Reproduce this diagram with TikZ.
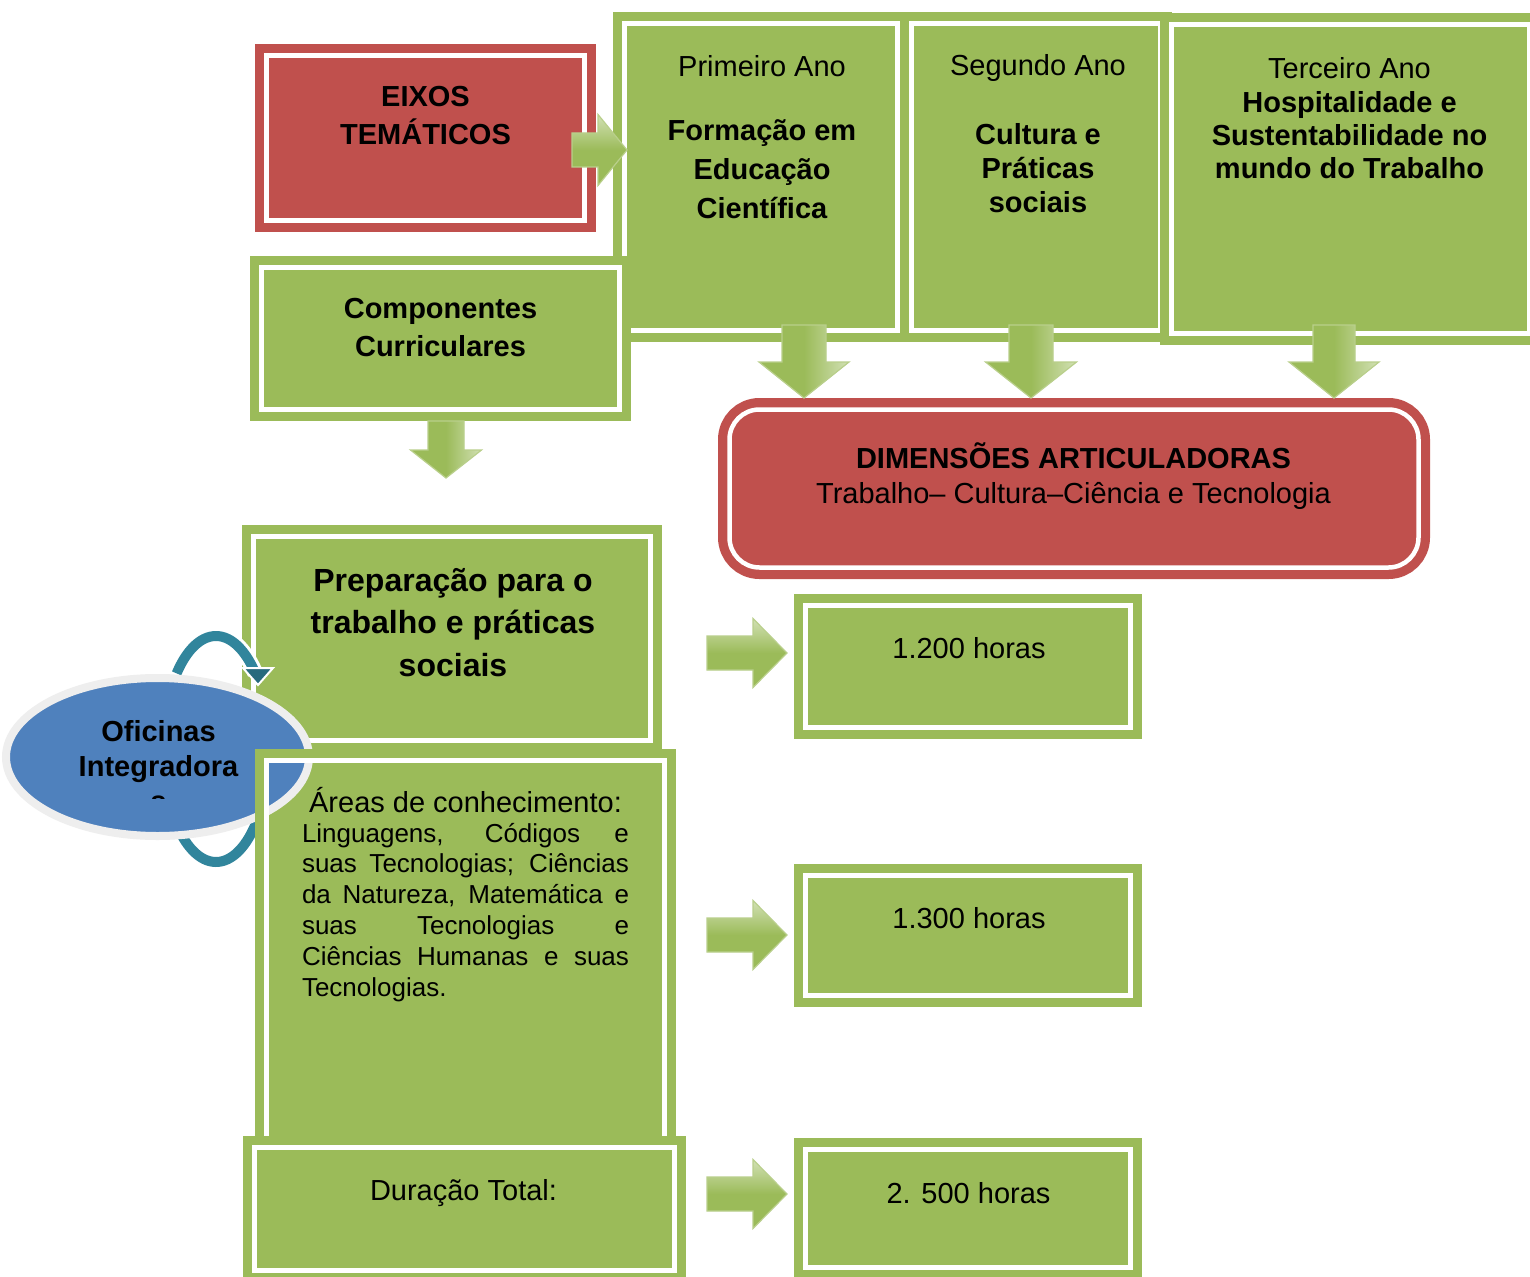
\documentclass[tikz,border=0pt]{standalone}
\usepackage{fontspec}
\setmainfont{Liberation Sans}
\usetikzlibrary{shapes.geometric}
\definecolor{gr}{HTML}{9BBB59}
\definecolor{rd}{HTML}{C0504D}
\definecolor{bl}{HTML}{4F81BD}
\definecolor{tl}{HTML}{31859C}
\definecolor{ring}{HTML}{EEEEEE}
\newcommand\FS[2]{\fontsize{#1}{#2}\selectfont}
% right block arrow: x0, x1 (head base), x2 (tip), y, body half, head half
\newcommand\RArrow[6]{\path[rarw] ({#1},{#4-#5}) -- ({#2},{#4-#5}) -- ({#2},{#4-#6}) -- ({#3},{#4}) -- ({#2},{#4+#6}) -- ({#2},{#4+#5}) -- ({#1},{#4+#5}) -- cycle;}
% down block arrow: xc, y0, y1 (head base), y2 (tip), body half, head half
\newcommand\DArrow[6]{\path[darw] ({#1-#5},{#2}) -- ({#1+#5},{#2}) -- ({#1+#5},{#3}) -- ({#1+#6},{#3}) -- ({#1},{#4}) -- ({#1-#6},{#3}) -- ({#1-#5},{#3}) -- cycle;}
\begin{document}
\begin{tikzpicture}[x=1pt,y=-1pt,
  every node/.style={inner sep=0pt, outer sep=0pt},
  gbox/.style={fill=gr, draw=white, line width=4.5pt, preaction={draw=gr, line width=23pt}},
  rbox/.style={fill=rd, draw=white, line width=4.5pt, preaction={draw=rd, line width=23pt}},
  rarw/.style={draw=gr!70!white, line width=1.2pt, top color=gr!45!white, bottom color=gr, middle color=gr},
  darw/.style={draw=gr!70!white, line width=1.2pt, left color=gr, right color=gr!45!white, middle color=gr},
  txt/.style={align=center, text=black},
  arcline/.style={line width=10pt, draw=tl},
  arcwhite/.style={line width=16pt, draw=white},
]
\useasboundingbox (0,0) rectangle (1530,1276);
\clip (0,0) rectangle (1530,1276);
\fill[white] (0,0) rectangle (1530,1276);

% year boxes
\node[gbox, minimum width=273pt, minimum height=307pt] (prim) at (761,177) {};
\node[gbox, minimum width=249pt, minimum height=307pt] (seg) at (1036,177) {};
\node[gbox, minimum width=358pt, minimum height=309pt] (ter) at (1350.5,179) {};
% componentes
\node[gbox, minimum width=358pt, minimum height=142pt] (comp) at (440.5,338.5) {};
% eixos
\node[rbox, minimum width=318pt, minimum height=165pt] (eixos) at (425.5,138) {};
% dimensoes
\node[rbox, rounded corners=30pt, minimum width=689pt, minimum height=158pt] (dim) at (1074,488.5) {};
% preparacao
\node[gbox, minimum width=397pt, minimum height=204pt] (prep) at (452,638.5) {};
% areas
\node[gbox, minimum width=398pt, minimum height=388pt] (areas) at (465.5,954.5) {};
% duracao
\node[gbox, minimum width=420pt, minimum height=123pt] (dur) at (464.5,1209) {};
% hours
\node[gbox, minimum width=325pt, minimum height=122pt] (h1) at (968,666.5) {};
\node[gbox, minimum width=325pt, minimum height=120pt] (h2) at (968,935.5) {};
\node[gbox, minimum width=325pt, minimum height=118pt] (h3) at (968,1208.5) {};

% block arrows
\RArrow{572}{598}{627}{150}{17}{35.5}
\DArrow{446}{421}{450}{478}{18}{35.5}
\DArrow{804}{325}{362}{398}{22}{45}
\DArrow{1031}{325}{362}{398}{22}{45.5}
\DArrow{1334}{325}{362}{398}{21}{45}
\RArrow{707}{753}{787}{653}{17}{34.5}
\RArrow{707}{753}{787}{935}{17}{34.5}
\RArrow{707}{753}{787}{1194}{17}{34.5}

% circular arrow around the ellipse
\draw[arcwhite] plot[smooth, domain=222:318, samples=40] ({216+53*cos(\x)},{749+113*sin(\x)});
\draw[arcline] plot[smooth, domain=222:318, samples=40] ({216+53*cos(\x)},{749+113*sin(\x)});
\path[fill=tl!80!black, draw=white, line width=2pt] (243,668) -- (273,668) -- (258,685) -- cycle;
\draw[arcwhite] plot[smooth, domain=40:138, samples=40] ({216+53*cos(\x)},{749+113*sin(\x)});
\draw[arcline] plot[smooth, domain=40:138, samples=40] ({216+53*cos(\x)},{749+113*sin(\x)});

% ellipse
\node[ellipse, fill=bl, draw=ring, line width=8pt, minimum width=303pt, minimum height=158pt] (ofic) at (157.5,757) {};

% areas frame on top of the ellipse
\begin{scope}
\clip (200,700) rectangle (700,900);
\draw[gr, line width=11.5pt] ([shift={(-5.75,-5.75)}]areas.north west) rectangle ([shift={(5.75,5.75)}]areas.south east);
\draw[white, line width=4.5pt] (areas.north west) rectangle (areas.south east);
\end{scope}

% texts
\node[txt, font=\FS{29}{38}\bfseries] (teixos) at (425.5,116) {EIXOS\\TEMÁTICOS};
\node[txt, font=\FS{29}{35}] (tprim1) at (762,66) {Primeiro Ano};
\node[txt, font=\FS{29}{39}\bfseries] (tprim2) at (762,169) {Formação em\\Educação\\Científica};
\node[txt, font=\FS{29}{35}] (tseg1) at (1038,68) {Segundo Ano};
\node[txt, font=\FS{29}{34}\bfseries] (tseg2) at (1038,168) {Cultura e\\Práticas\\sociais};
\node[txt, font=\FS{29}{35}] (tter1) at (1349.5,68) {Terceiro Ano};
\node[txt, font=\FS{29}{33.3}\bfseries] (tter2) at (1349.5,135) {Hospitalidade e\\Sustentabilidade no\\mundo do Trabalho};
\node[txt, font=\FS{29}{38}\bfseries] (tcomp) at (440.5,328) {Componentes\\Curriculares};
\node[txt, font=\FS{29}{35}\bfseries] (tdim1) at (1073.5,455.4) {DIMENSÕES ARTICULADORAS};
\node[txt, font=\FS{29}{35}] (tdim2) at (1073.5,496) {Trabalho– Cultura–Ciência e Tecnologia};
\node[txt, font=\FS{32}{42.5}\bfseries] (tprep) at (453,622.3) {Preparação para o\\trabalho e práticas\\sociais};
\begin{scope}
\clip (0,600) rectangle (330,798);
\node[txt, font=\FS{29}{35}\bfseries] (tofic) at (158.5,766) {Oficinas\\Integradora\\s};
\end{scope}
\node[txt, font=\FS{29}{35}] (tareas1) at (465.5,800.4) {Áreas de conhecimento:};
\node[align=left, font=\FS{26}{30.8}] (tareas2) at (465.5,912.2) {%
\makebox[327pt][s]{Linguagens, Códigos e}\\
\makebox[327pt][s]{suas Tecnologias; Ciências}\\
\makebox[327pt][s]{da Natureza, Matemática e}\\
\makebox[327pt][s]{suas Tecnologias e}\\
\makebox[327pt][s]{Ciências Humanas e suas}\\
\makebox[327pt][l]{Tecnologias.}};
\node[txt, font=\FS{29}{35}] (th1) at (969,648) {1.200 horas};
\node[txt, font=\FS{29}{35}] (th2) at (969,918) {1.300 horas};
\node[txt, font=\FS{29}{35}] (th3) at (968.5,1193) {2. 500 horas};
\node[txt, font=\FS{29}{35}] (tdur) at (463.5,1193) {Duração Total:};
\end{tikzpicture}
\end{document}
